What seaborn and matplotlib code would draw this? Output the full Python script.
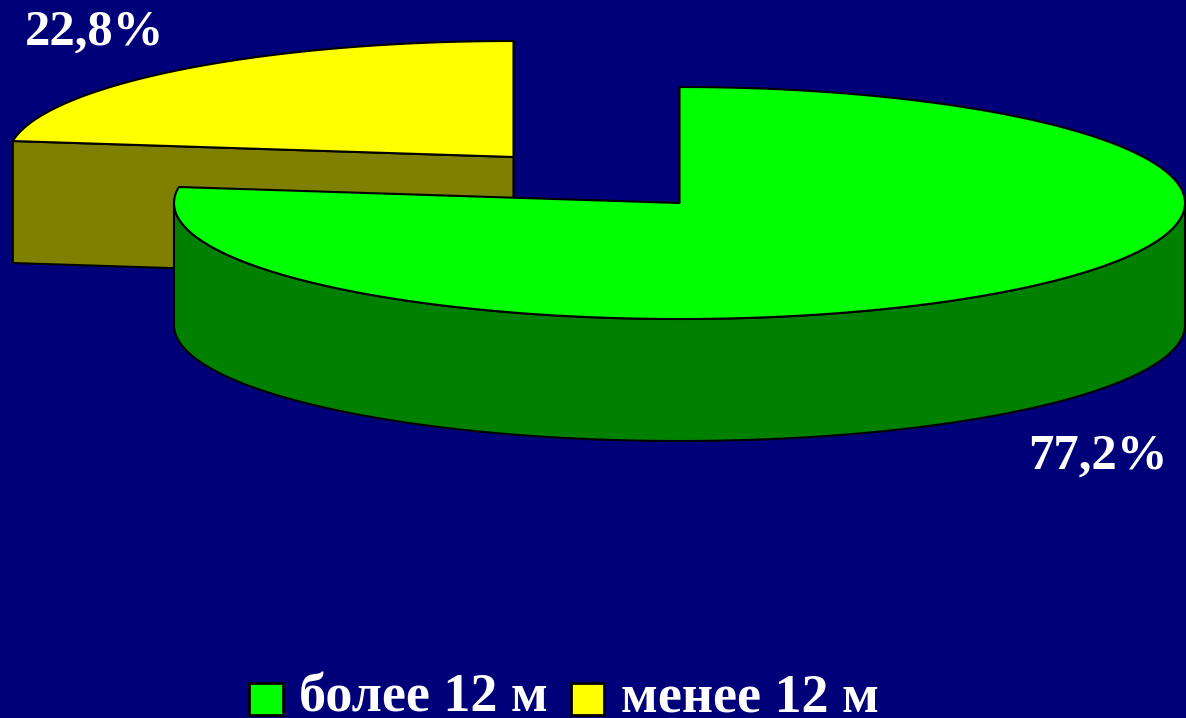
import numpy as np
import matplotlib
matplotlib.use("Agg")
import matplotlib.pyplot as plt
from matplotlib.patches import Polygon, Patch
import seaborn as sns

categories = ["более 12 м", "менее 12 м"]
values = [77.2, 22.8]
labels = ["77,2%", "22,8%"]
top_colors = ["#00FF00", "#FFFF00"]
side_colors = ["#008000", "#808000"]
background = "#000078"

W, H = 1186, 718
RX, RY, DEPTH = 505.5, 116, 122
CENTERS = [(679.5, 203), (513.5, 157)]

sns.set_theme(style="white")
plt.rcParams["font.family"] = ["Liberation Serif", "DejaVu Serif"]
fig = plt.figure(figsize=(W / 100, H / 100), dpi=100, facecolor=background)
ax = fig.add_axes([0, 0, 1, 1])
ax.set_xlim(0, W)
ax.set_ylim(H, 0)
ax.set_axis_off()


def rim(cx, cy, a0, a1, n=240):
    # angles measured clockwise from 12 o'clock, in degrees
    t = np.radians(np.linspace(a0, a1, n))
    return np.column_stack([cx + RX * np.sin(t), cy - RY * np.cos(t)])


def add_poly(pts, color, z):
    ax.add_patch(Polygon(pts, closed=True, facecolor=color, edgecolor="black",
                         linewidth=1.5, joinstyle="round", zorder=z))


edges = np.cumsum([0] + values) / sum(values) * 360

# yellow slice (drawn first, sits behind)
cx, cy = CENTERS[1]
a0, a1 = edges[1], edges[2]
p = rim(cx, cy, a0, a1)
centre = np.array([[cx, cy]])
add_poly(np.vstack([p[:1], centre, centre + [0, DEPTH], p[:1] + [0, DEPTH]]), side_colors[1], 1)
add_poly(np.vstack([centre, p]), top_colors[1], 2)

# green slice
cx, cy = CENTERS[0]
a0, a1 = edges[0], edges[1]
p = rim(cx, cy, a0, a1)
front = rim(cx, cy, 90, 270)
add_poly(np.vstack([front, (front + [0, DEPTH])[::-1]]), side_colors[0], 3)
add_poly(np.vstack([[[cx, cy]], p]), top_colors[0], 4)

text_kw = dict(color="white", fontweight="bold", fontsize=36.5, va="baseline", ha="center", zorder=6)
ax.text(1098, 469, labels[0], **text_kw)
ax.text(95, 45, labels[1], **text_kw)

handles = [Patch(facecolor=c, edgecolor="black", linewidth=2) for c in top_colors]
leg = ax.legend(handles, categories, loc="lower center", bbox_to_anchor=(564 / W, -0.008), ncol=2,
                frameon=False, labelcolor="white", handlelength=0.62, handleheight=0.54,
                handletextpad=0.3, columnspacing=0.42, borderaxespad=0, borderpad=0,
                prop={"family": "Liberation Serif", "weight": "bold", "size": 39})
for h in leg.legend_handles:
    h.set_y(h.get_y() - 4.5)

fig.savefig("out.png", dpi=100, facecolor=background)
